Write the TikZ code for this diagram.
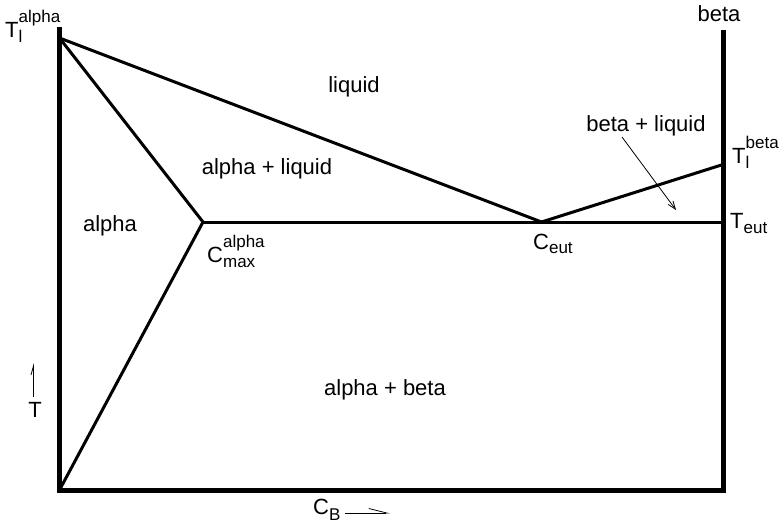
\documentclass[tikz,border=0pt]{standalone}
\usepackage{fontspec}
\setmainfont{Liberation Sans}
\usetikzlibrary{arrows.meta}
\newcommand\scrtxt[1]{{\fontsize{17}{17}\selectfont #1}}
\newcommand\subsup[3]{#1\rlap{\raisebox{-5pt}{\scrtxt{#2}}}\raisebox{15pt}{\scrtxt{#3}}}
\newcommand\subonly[3]{#1\raisebox{-#3}{\scrtxt{#2}}}
\begin{document}
\begin{tikzpicture}[x=1pt,y=-1pt,
  axisline/.style={line width=5pt,line join=miter,line cap=butt},
  phaseline/.style={line width=3pt,line cap=round,line join=round},
  pointer/.style={line width=0.8pt},
  lbl/.style={font=\fontsize{22}{22}\selectfont,inner sep=0pt,text=black}]
\useasboundingbox (0,0) rectangle (782,525);
% key points
\coordinate (axTL) at (59.5,27);
\coordinate (Ta)   at (59.5,38);
\coordinate (O)    at (59.5,490);
\coordinate (BR)   at (723,490);
\coordinate (axTR) at (723,30);
\coordinate (Cm)   at (203,222);
\coordinate (Ce)   at (541.5,222);
\coordinate (Tb)   at (723,164.5);
\coordinate (Te)   at (723,222);
% axes
\draw[axisline] (axTL) -- (O) -- (BR) -- (axTR);
% phase boundaries
\draw[phaseline] (Ta) -- (Ce);
\draw[phaseline] (Ta) -- (Cm);
\draw[phaseline] (Cm) -- (O);
\draw[phaseline] (Cm) -- (Te);
\draw[phaseline] (Ce) -- (Tb);
% labels
\node[lbl,anchor=base] (liq) at (354,92) {liquid};
\node[lbl,anchor=base] (al) at (267,174) {alpha + liquid};
\node[lbl,anchor=base] (al2) at (110,231) {alpha};
\node[lbl,anchor=base] (ab) at (385,395) {alpha + beta};
\node[lbl,anchor=base] (bl) at (646,131) {beta + liquid};
\node[lbl,anchor=base] (beta) at (719,21) {beta};
\node[lbl,anchor=base west] (tla) at (5,37) {\subsup{T}{l}{alpha}};
\node[lbl,anchor=base west] (tlb) at (732,163) {\subsup{T}{l}{beta}};
\node[lbl,anchor=base west] (teut) at (730,228) {\subonly{T}{eut}{5pt}};
\node[lbl,anchor=base west] (ceut) at (533,249) {\subonly{C}{eut}{4pt}};
\node[lbl,anchor=base west] (cmax) at (207,262) {\subsup{C}{max}{alpha}};
\node[lbl,anchor=base west] (cb) at (313,514) {\subonly{C}{B}{6pt}};
\node[lbl,anchor=base] (tl) at (35,417) {T};
% pointers
\coordinate (p1) at (622,137);
\coordinate (p2) at (676,210);
\draw[pointer,-{Straight Barb[length=8pt,width=6pt]}] (p1) -- (p2);
\coordinate (t1) at (33.5,397);
\coordinate (t2) at (33.5,363);
\draw[pointer,-{Straight Barb[left,length=9pt,width=5pt]}] (t1) -- (t2);
\coordinate (c1) at (345,513);
\coordinate (c2) at (390,513);
\draw[pointer,-{Straight Barb[left,length=18pt,width=9pt]}] (c1) -- (c2);
\end{tikzpicture}
\end{document}
